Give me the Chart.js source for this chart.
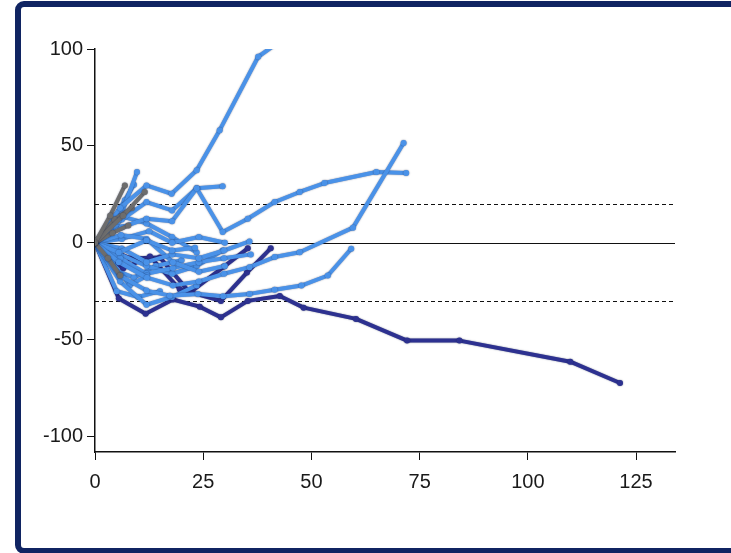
<!DOCTYPE html>
<html>
<head>
<meta charset="utf-8">
<script src="https://cdn.jsdelivr.net/npm/chart.js@4/dist/chart.umd.min.js"></script>
<style>
  html, body { margin: 0; padding: 0; background: #ffffff; overflow: hidden; }
  #frame {
    position: absolute; left: 15px; top: 1px; width: 740px; height: 553px;
    box-sizing: border-box; border: 6px solid #102462; border-radius: 9px;
  }
  #wrap { position: absolute; left: 0; top: 0; width: 731px; height: 553px; }
</style>
</head>
<body>
<div id="frame"></div>
<div id="wrap"><canvas id="c" width="731" height="553"></canvas></div>
<script>
// Percent change from baseline (y) against weeks on study (x), one array per patient.
const xTicks = [0, 25, 50, 75, 100, 125];
const yTicks = [-100, -50, 0, 50, 100];
const refSolid = 0;
const refDashed = [20, -30];

// dark navy group
const pt01 = [[0,0],[5.5,-28.8],[11.7,-36.6],[18.0,-29.3],[24.2,-33.0],[29.1,-38.5],[35.3,-30.0],[42.7,-27.5],[48.2,-33.5],[60.3,-39.3],[72.1,-50.5],[84.2,-50.5],[109.8,-61.4],[121.3,-72.4]];
const pt02 = [[0,0],[6.5,-13.3],[12.7,-7.1],[19.6,-24.0],[29.1,-30.0],[35.1,-15.4],[40.6,-2.9]];
const pt03 = [[0,0],[8.1,-8.1],[15.0,-7.6],[21.9,-25.7],[29.8,-12.3],[35.3,-2.9]];

// light blue group
const pt04 = [[0,0],[5.8,18.0],[11.9,29.6],[17.7,25.3],[23.5,37.4],[28.8,58.1],[37.7,96.0],[44.0,106.0]];
const pt05 = [[0,0],[5.5,-10.0],[12.0,-18.0],[18.0,-22.0],[24.0,-20.0],[29.8,-16.0],[35.7,-12.6],[41.5,-7.4],[47.3,-4.9],[59.6,7.8],[71.3,51.5]];
const pt06 = [[0,0],[6.2,8.0],[11.9,12.4],[17.8,11.1],[23.5,28.1],[29.5,5.5],[35.3,12.4],[41.5,21.0],[47.3,26.2],[53.0,30.8],[65.0,36.5],[71.9,36.0]];
const pt07 = [[0,0],[5.8,-17.0],[11.9,-24.7],[17.3,-27.3],[23.8,-26.4],[29.6,-27.6],[35.7,-26.4],[41.5,-24.3],[47.7,-22.1],[53.8,-16.9],[59.2,-3.1]];
const pt08 = [[0,0],[5.0,8.0],[9.7,36.5]];
const pt09 = [[0,0],[6.2,12.0],[11.9,21.0],[17.8,16.7],[23.5,28.1],[29.5,29.1]];
const pt10 = [[0,0],[5.5,-5.0],[11.9,1.2],[17.8,-4.0],[23.1,-2.6]];
const pt11 = [[0,0],[6.2,-3.0],[11.9,-10.0],[17.8,-6.0],[24.0,-8.0],[29.8,-4.0],[35.7,0.7]];
const pt12 = [[0,0],[5.8,-20.0],[11.9,-32.0],[17.8,-28.0],[23.5,-22.0]];
const pt13 = [[0,0],[3.5,10.0],[6.9,22.0],[9.0,30.0]];
const pt14 = [[0,0],[4.0,-10.0],[8.0,-22.0],[12.0,-17.0]];
const pt15 = [[0,0],[6.0,4.0],[11.9,2.0],[18.0,-10.0],[24.0,-15.0],[30.0,-12.0]];
const pt16 = [[0,0],[5.8,-8.0],[11.9,-16.0],[18.0,-13.0],[24.0,-10.0],[29.8,-8.0],[36.0,-6.0]];
const pt22 = [[0,0],[5.8,-6.0],[11.9,-12.0],[17.8,-16.0],[23.5,-12.0],[29.5,-4.0]];
const pt23 = [[0,0],[4.5,-14.0],[9.0,-18.0],[14.0,-12.0],[20.0,-9.0]];
const pt24 = [[0,0],[6.2,2.0],[12.5,6.0],[17.8,0.0],[24.0,3.0],[30.0,0.0]];
const pt25 = [[0,0],[5.0,-25.0],[10.0,-28.0],[15.0,-25.0]];
const pt26 = [[0,0],[5.5,14.0],[11.9,10.0],[17.8,3.0],[23.5,-5.0]];

// grey group
const pt17 = [[0,0],[3.5,14.0],[6.9,29.6]];
const pt18 = [[0,0],[6.5,14.0],[11.5,26.2]];
const pt19 = [[0,0],[4.0,5.0],[7.7,8.9]];
const pt20 = [[0,0],[3.0,-8.0],[5.8,-16.9]];
const pt21 = [[0,0],[4.5,12.0],[8.5,18.0]];

const navy = '#2d3190';
const sky = '#4a92e8';
const grey = '#6d6d6d';

const groups = [
  { color: navy, order: 3, series: [pt01, pt02, pt03] },
  { color: sky,  order: 2, series: [pt04, pt05, pt06, pt07, pt08, pt09, pt10, pt11, pt12, pt13, pt14, pt15, pt16, pt22, pt23, pt24, pt25, pt26] },
  { color: grey, order: 1, series: [pt17, pt18, pt19, pt20, pt21] }
];

const datasets = [];
groups.forEach(g => g.series.forEach(s => datasets.push({
  data: s.map(p => ({ x: p[0], y: p[1] })),
  borderColor: g.color,
  backgroundColor: g.color,
  pointBackgroundColor: g.color,
  pointBorderColor: g.color,
  borderWidth: 4,
  pointRadius: 3,
  pointBorderWidth: 0,
  tension: 0,
  borderJoinStyle: 'round',
  borderCapStyle: 'round',
  order: g.order
})));

// horizontal reference lines under the patient lines, plus a soft edge shadow on the lines
const refLines = {
  id: 'refLines',
  beforeDatasetsDraw(chart) {
    const { ctx, chartArea: a, scales: { y } } = chart;
    ctx.save();
    ctx.strokeStyle = '#111';
    ctx.lineWidth = 1;
    const draw = (v, dash) => {
      const py = Math.round(y.getPixelForValue(v)) + 0.5;
      ctx.setLineDash(dash);
      ctx.beginPath();
      ctx.moveTo(a.left, py);
      ctx.lineTo(a.right, py);
      ctx.stroke();
    };
    draw(refSolid, []);
    refDashed.forEach(v => draw(v, [4, 3]));
    ctx.restore();
    ctx.save();
    ctx.shadowColor = 'rgba(10, 20, 60, 0.55)';
    ctx.shadowBlur = 1.5;
  },
  afterDatasetsDraw(chart) {
    chart.ctx.restore();
  }
};

const tickFont = { family: '"Liberation Sans", Arial, sans-serif', size: 20 };

new Chart(document.getElementById('c'), {
  type: 'line',
  data: { datasets },
  plugins: [refLines],
  options: {
    responsive: false,
    animation: false,
    events: [],
    layout: { padding: { left: 0, right: 56, top: 49, bottom: 0 } },
    plugins: { legend: { display: false }, tooltip: { enabled: false } },
    scales: {
      x: {
        type: 'linear', min: 0, max: 134,
        afterFit: s => { s.height = 101; },
        afterBuildTicks: s => { s.ticks = xTicks.map(v => ({ value: v })); },
        grid: { drawOnChartArea: false, drawTicks: true, tickLength: 8, color: '#111', lineWidth: 1 },
        border: { color: '#111', width: 1.5 },
        ticks: { color: '#1a1a1a', font: tickFont, padding: 10, maxRotation: 0 }
      },
      y: {
        type: 'linear', min: -108, max: 100,
        afterFit: s => { s.width = 95; },
        afterBuildTicks: s => { s.ticks = yTicks.map(v => ({ value: v })); },
        grid: { drawOnChartArea: false, drawTicks: true, tickLength: 8, color: '#111', lineWidth: 1 },
        border: { color: '#111', width: 1.5 },
        ticks: { color: '#1a1a1a', font: tickFont, padding: 4 }
      }
    }
  }
});
</script>
</body>
</html>
